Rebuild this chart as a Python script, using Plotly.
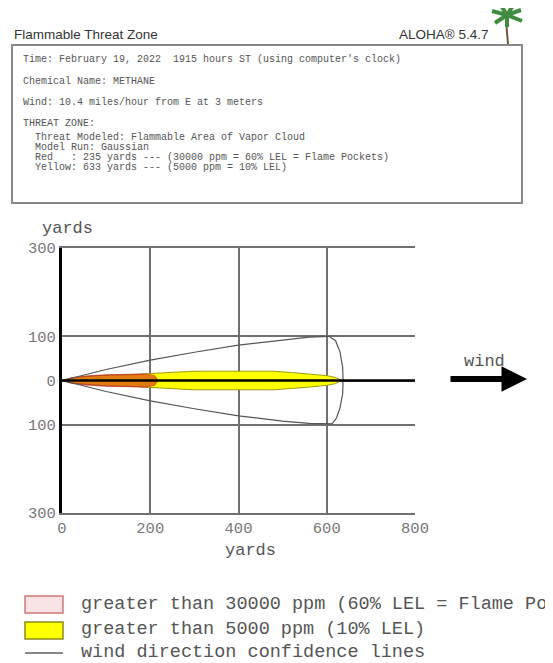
import plotly.graph_objects as go

# ---------------- data ----------------
# yellow zone (>5000 ppm) half-width profile, yards downwind vs crosswind
yellow_x = [0, 25, 50, 100, 150, 200, 230, 260, 300, 400, 480, 520, 560, 600, 620, 633]
yellow_hw = [0, 6, 9, 12, 13, 15, 17, 19, 21, 21, 21, 18, 15, 11, 7, 0]
# red zone (>30000 ppm)
red_x = [0, 20, 50, 100, 150, 190, 210, 218]
red_hw = [0, 6, 10, 13, 14, 15, 11, 0]
# wind direction confidence lines (closed outline: upper line, end arc, lower line)
conf_x = [0, 50, 100, 200, 300, 400, 500, 560, 605, 620, 630, 636, 637, 636, 630, 622, 612,
          560, 500, 400, 300, 200, 100, 50, 0]
conf_y = [0, 13, 25, 46, 64, 80, 92, 98, 100, 90, 65, 30, 0, -30, -62, -85, -98,
          -97, -92, -80, -64, -46, -25, -13, 0]
centerline_x = [0, 800]
centerline_y = [0, 0]

x_ticks = [0, 200, 400, 600, 800]
x_ticktext = ["0", "200", "400", "600", "800"]
y_ticks = [-300, -100, 0, 100, 300]
y_ticktext = ["300", "100", "0", "100", "300"]

header_lines = [
    "Time: February 19, 2022  1915 hours ST (using computer's clock)",
    "Chemical Name: METHANE",
    "Wind: 10.4 miles/hour from E at 3 meters",
    "THREAT ZONE:",
    "  Threat Modeled: Flammable Area of Vapor Cloud",
    "  Model Run: Gaussian",
    "  Red   : 235 yards --- (30000 ppm = 60% LEL = Flame Pockets)",
    "  Yellow: 633 yards --- (5000 ppm = 10% LEL)",
]
legend_labels = [
    "greater than 30000 ppm (60% LEL = Flame Pockets)",
    "greater than 5000 ppm (10% LEL)",
    "wind direction confidence lines",
]

# ---------------- layout geometry (page pixels) ----------------
PAGE_W, PAGE_H = 553, 663
BODY = 8  # default page margin around the figure
W, H = PAGE_W - BODY, PAGE_H - BODY
L, R, T, B = 62, 415, 248, 513  # plot area in page pixels


def px(x):
    return (x - L) / (R - L)


def py(y):
    return (B - y) / (B - T)


MONO = "Liberation Mono"

fig = go.Figure()

fig.add_trace(go.Scatter(
    x=yellow_x + yellow_x[::-1],
    y=yellow_hw + [-v for v in yellow_hw[::-1]],
    fill="toself", fillcolor="#ffff00", mode="lines",
    line=dict(color="#9a9a10", width=1), hoverinfo="skip", showlegend=False))
fig.add_trace(go.Scatter(
    x=red_x + red_x[::-1],
    y=red_hw + [-v for v in red_hw[::-1]],
    fill="toself", fillcolor="rgba(205,35,30,0.6)", mode="lines",
    line=dict(color="rgba(190,30,30,0.6)", width=1), hoverinfo="skip", showlegend=False))
fig.add_trace(go.Scatter(
    x=conf_x, y=conf_y, mode="lines",
    line=dict(color="#555555", width=1.2), hoverinfo="skip", showlegend=False))
fig.add_trace(go.Scatter(
    x=centerline_x, y=centerline_y, mode="lines",
    line=dict(color="black", width=2.5), hoverinfo="skip", showlegend=False))

shapes = []
annotations = []

# header
annotations.append(dict(xref="paper", yref="paper", x=px(12), y=py(34), xanchor="left",
                        yanchor="middle", text="Flammable Threat Zone", showarrow=False,
                        font=dict(family="Liberation Sans", size=13.5, color="#333")))
annotations.append(dict(xref="paper", yref="paper", x=px(491), y=py(34), xanchor="right",
                        yanchor="middle", text="ALOHA® 5.4.7", showarrow=False,
                        font=dict(family="Liberation Sans", size=13.5, color="#333")))
shapes.append(dict(type="rect", xref="paper", yref="paper", x0=px(12), x1=px(522),
                   y0=py(203), y1=py(45), line=dict(color="#888", width=2),
                   fillcolor="white", layer="below"))
line_y = [60, 82, 103, 123, 137, 147, 157, 167]
for t, yy in zip(header_lines, line_y):
    annotations.append(dict(xref="paper", yref="paper", x=px(21), y=py(yy), xanchor="left",
                            yanchor="middle", text=t.replace(" ", "&nbsp;"), showarrow=False,
                            font=dict(family=MONO, size=10, color="#555")))

# palm tree
shapes.append(dict(type="line", xref="paper", yref="paper", x0=px(506), y0=py(20),
                   x1=px(508), y1=py(44), line=dict(color="#6b5a3a", width=2)))
for (ex, ey) in [(492, 11), (495, 23), (521, 10), (522, 21), (500, 4), (514, 4), (507, 27)]:
    shapes.append(dict(type="line", xref="paper", yref="paper", x0=px(507), y0=py(15),
                       x1=px(ex), y1=py(ey), line=dict(color="#3f8c3f", width=4)))

# axis titles
annotations.append(dict(xref="paper", yref="paper", x=px(67), y=py(228), xanchor="center",
                        yanchor="middle", text="yards", showarrow=False,
                        font=dict(family=MONO, size=17, color="#555")))
annotations.append(dict(xref="paper", yref="paper", x=px(250), y=py(550), xanchor="center",
                        yanchor="middle", text="yards", showarrow=False,
                        font=dict(family=MONO, size=17, color="#555")))

# wind arrow
annotations.append(dict(xref="paper", yref="paper", x=px(527), y=py(379),
                        axref="pixel", ayref="pixel", ax=-78, ay=0,
                        text="", showarrow=True, arrowhead=2, arrowsize=0.85,
                        arrowwidth=6, arrowcolor="black"))
annotations.append(dict(xref="paper", yref="paper", x=px(484), y=py(361), xanchor="center",
                        yanchor="middle", text="wind", showarrow=False,
                        font=dict(family=MONO, size=17, color="#555")))

# legend
shapes.append(dict(type="rect", xref="paper", yref="paper", x0=px(25), x1=px(63),
                   y0=py(613), y1=py(596), line=dict(color="#d07878", width=1.5),
                   fillcolor="#f8e4e4"))
shapes.append(dict(type="rect", xref="paper", yref="paper", x0=px(25), x1=px(63),
                   y0=py(639), y1=py(622), line=dict(color="#8a8a20", width=1.5),
                   fillcolor="#ffff00"))
shapes.append(dict(type="line", xref="paper", yref="paper", x0=px(25), x1=px(63),
                   y0=py(653), y1=py(653), line=dict(color="#888", width=2)))
for t, yy in zip(legend_labels, [604, 629, 652]):
    annotations.append(dict(xref="paper", yref="paper", x=px(79), y=py(yy), xanchor="left",
                            yanchor="middle", text=t, showarrow=False,
                            font=dict(family=MONO, size=18.5, color="#555")))

fig.update_layout(
    width=W, height=H,
    margin=dict(l=L - BODY, r=PAGE_W - R, t=T - BODY, b=PAGE_H - B, pad=0),
    paper_bgcolor="white", plot_bgcolor="white",
    shapes=shapes, annotations=annotations, showlegend=False,
    xaxis=dict(range=[0, 800], tickvals=x_ticks, ticktext=x_ticktext,
               showgrid=True, gridcolor="#707070", gridwidth=1.5,
               showline=True, linecolor="#707070", linewidth=1.5, mirror=True,
               zeroline=False, ticks="", fixedrange=True,
               tickfont=dict(family=MONO, size=15.5, color="#777")),
    yaxis=dict(range=[-300, 300], tickvals=y_ticks, ticktext=y_ticktext,
               showgrid=True, gridcolor="#707070", gridwidth=1.5,
               showline=True, linecolor="black", linewidth=3, mirror=False,
               zeroline=False, ticks="", fixedrange=True,
               tickfont=dict(family=MONO, size=15.5, color="#777")),
)

fig.write_html("out.html")
